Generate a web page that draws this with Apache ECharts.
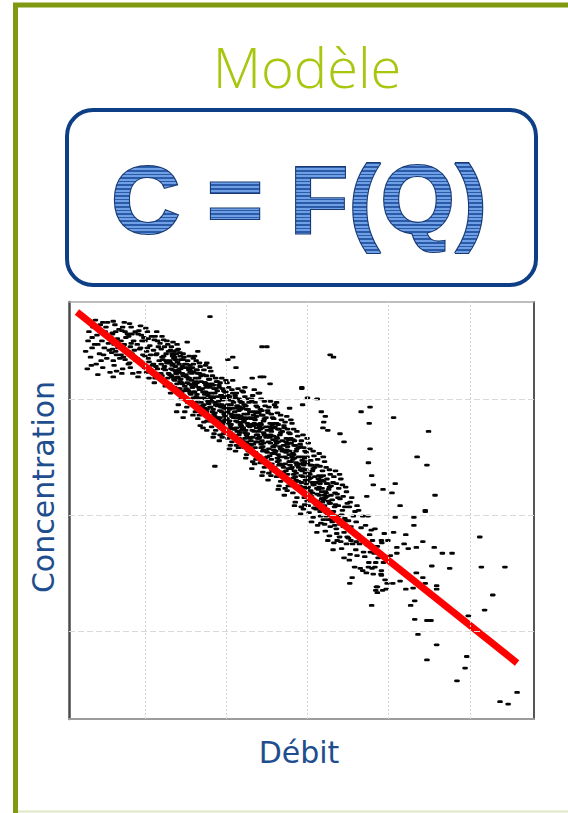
<!DOCTYPE html>
<html>
<head>
<meta charset="utf-8">
<script src="https://cdn.jsdelivr.net/npm/echarts@6/dist/echarts.min.js"></script>
<style>
html, body { margin: 0; padding: 0; background: #ffffff; }
#chart { width: 568px; height: 813px; }
</style>
</head>
<body>
<div id="chart"></div>
<script>
// ---- texts ----
const titleText = 'Modèle';
const formulaText = 'C = F(Q)';
const xAxisName = 'Débit';
const yAxisName = 'Concentration';

// ---- axes (arbitrary units, unlabeled) ----
const xRange = [0.065, 5.788];
const yRange = [0.241, 3.836];
const xGridValues = [1, 2, 3, 4, 5];
const yGridValues = [1, 2, 3];

// ---- fitted model C = F(Q) ----
const trendLine = [[0.163, 3.75], [5.58, 0.724]];

// ---- observations (Débit, Concentration) ----
const upstreamPoints = [
  [0.27,3.41],[0.31,3.58],[0.33,3.36],[0.36,3.62],[0.38,3.47],[0.40,3.30],[0.41,3.55],[0.44,3.39],[0.45,3.64],[0.47,3.50],
  [0.48,3.27],[0.50,3.44],[0.51,3.58],[0.53,3.35],[0.54,3.66],[0.55,3.48],[0.57,3.23],[0.58,3.53],[0.59,3.40],[0.30,3.50],
  [0.35,3.44],[0.43,3.60],[0.46,3.33],[0.52,3.62],[0.56,3.42],[0.60,3.57],[0.39,3.68],[0.49,3.38],[0.42,3.47],[0.34,3.29],
  [0.29,3.26],[0.35,3.53],[0.42,3.21],[0.48,3.66],[0.61,3.19]
];

const bandHigh = [
  [0.60,3.56],[0.61,3.33],[0.62,3.47],[0.63,3.64],[0.64,3.41],[0.65,3.24],[0.66,3.52],[0.67,3.44],[0.68,3.60],[0.69,3.35],[0.60,3.43],[0.61,3.67],[0.62,3.29],[0.63,3.50],[0.64,3.58],[0.65,3.38],
  [0.705,3.38],[0.715,3.59],[0.725,3.26],[0.735,3.46],[0.745,3.66],[0.755,3.34],[0.765,3.53],[0.775,3.41],[0.785,3.56],[0.795,3.30],[0.705,3.50],[0.715,3.22],[0.725,3.62],[0.735,3.36],[0.745,3.47],[0.755,3.58],
  [0.80,3.54],[0.81,3.31],[0.82,3.45],[0.83,3.62],[0.84,3.39],[0.85,3.22],[0.86,3.50],[0.87,3.42],[0.88,3.58],[0.89,3.33],[0.80,3.41],[0.81,3.65],[0.82,3.27],[0.83,3.48],[0.84,3.56],[0.85,3.36],
  [0.905,3.35],[0.915,3.56],[0.925,3.23],[0.935,3.43],[0.945,3.63],[0.955,3.31],[0.965,3.50],[0.975,3.38],[0.985,3.53],[0.995,3.27],[0.905,3.47],[0.915,3.19],[0.925,3.59],[0.935,3.33],[0.945,3.44],[0.955,3.55],
  [1.00,3.50],[1.01,3.27],[1.02,3.41],[1.03,3.58],[1.04,3.35],[1.05,3.18],[1.06,3.46],[1.07,3.38],[1.08,3.54],[1.09,3.29],[1.00,3.37],[1.01,3.61],[1.02,3.23],[1.03,3.44],[1.04,3.52],[1.05,3.32],
  [1.105,3.30],[1.115,3.51],[1.125,3.18],[1.135,3.38],[1.145,3.58],[1.155,3.26],[1.165,3.45],[1.175,3.33],[1.185,3.48],[1.195,3.22],[1.105,3.42],[1.115,3.14],[1.125,3.54],[1.135,3.28],[1.145,3.39],[1.155,3.50],
  [1.20,3.43],[1.21,3.20],[1.22,3.34],[1.23,3.51],[1.24,3.28],[1.25,3.11],[1.26,3.39],[1.27,3.31],[1.28,3.47],[1.29,3.22],[1.20,3.30],[1.21,3.54],[1.22,3.16],[1.23,3.37],[1.24,3.45],[1.25,3.25],[1.26,3.33],[1.27,3.50],[1.28,3.18],[1.29,3.41],[1.21,3.36],[1.23,3.26],
  [1.305,3.21],[1.315,3.42],[1.325,3.09],[1.335,3.29],[1.345,3.49],[1.355,3.17],[1.365,3.36],[1.375,3.24],[1.385,3.39],[1.395,3.13],[1.305,3.33],[1.315,3.05],[1.325,3.45],[1.335,3.19],[1.345,3.30],[1.355,3.41],[1.365,3.10],[1.375,3.34],[1.385,3.22],[1.395,3.47],[1.32,3.26],[1.34,3.37],
  [1.40,3.32],[1.41,3.09],[1.42,3.23],[1.43,3.40],[1.44,3.17],[1.45,3.00],[1.46,3.28],[1.47,3.20],[1.48,3.36],[1.49,3.11],[1.40,3.19],[1.41,3.43],[1.42,3.05],[1.43,3.26],[1.44,3.34],[1.45,3.14],[1.46,3.22],[1.47,3.39],[1.48,3.07],[1.49,3.30],[1.41,3.25],[1.43,3.15],
  [1.505,3.09],[1.515,3.30],[1.525,2.97],[1.535,3.17],[1.545,3.37],[1.555,3.05],[1.565,3.24],[1.575,3.12],[1.585,3.27],[1.595,3.01],[1.505,3.21],[1.515,2.93],[1.525,3.33],[1.535,3.07],[1.545,3.18],[1.555,3.29],[1.565,2.98],[1.575,3.22],[1.585,3.10],[1.595,3.35],[1.52,3.14],[1.54,3.25],
  [1.60,3.23],[1.61,2.94],[1.62,3.12],[1.63,3.33],[1.64,3.04],[1.65,2.83],[1.66,3.18],[1.67,3.08],[1.68,3.28],[1.69,2.97],[1.60,3.06],[1.61,3.37],[1.62,2.89],[1.63,3.15],[1.64,3.25],[1.65,3.00],[1.66,3.10],[1.67,3.31],[1.68,2.92],[1.69,3.20],[1.61,3.14],[1.63,3.02],[1.65,3.22],[1.67,2.86],
  [1.705,2.94],[1.715,3.21],[1.725,2.80],[1.735,3.04],[1.745,3.29],[1.755,2.89],[1.765,3.13],[1.775,2.98],[1.785,3.17],[1.795,2.84],[1.705,3.09],[1.715,2.75],[1.725,3.25],[1.735,2.92],[1.745,3.06],[1.755,3.20],[1.765,2.81],[1.775,3.11],[1.785,2.96],[1.795,3.27],[1.72,3.01],[1.74,3.14],[1.76,2.86],[1.78,3.05]
];

const bandMiddle = [
  [1.80,3.10],[1.81,2.81],[1.82,2.99],[1.83,3.20],[1.84,2.91],[1.85,2.70],[1.86,3.05],[1.87,2.95],[1.88,3.15],[1.89,2.84],[1.80,2.93],[1.81,3.24],[1.82,2.76],[1.83,3.02],[1.84,3.12],[1.85,2.87],[1.86,2.97],[1.87,3.18],[1.88,2.79],[1.89,3.07],[1.81,3.01],[1.83,2.89],[1.85,3.09],[1.87,2.73],[1.89,2.94],[1.82,3.13],[1.84,2.67],[1.86,2.85],
  [1.905,2.83],[1.915,3.10],[1.925,2.69],[1.935,2.93],[1.945,3.18],[1.955,2.78],[1.965,3.02],[1.975,2.87],[1.985,3.06],[1.995,2.73],[1.905,2.98],[1.915,2.64],[1.925,3.14],[1.935,2.81],[1.945,2.95],[1.955,3.09],[1.965,2.70],[1.975,3.00],[1.985,2.85],[1.995,3.16],[1.92,2.90],[1.94,3.03],[1.96,2.75],[1.98,2.94],[1.91,3.12],[1.95,2.67],[1.97,3.07],[1.99,2.82],
  [2.00,3.00],[2.01,2.71],[2.02,2.89],[2.03,3.10],[2.04,2.81],[2.05,2.60],[2.06,2.95],[2.07,2.85],[2.08,3.05],[2.09,2.74],[2.00,2.83],[2.01,3.14],[2.02,2.66],[2.03,2.92],[2.04,3.02],[2.05,2.77],[2.06,2.87],[2.07,3.08],[2.08,2.69],[2.09,2.97],[2.01,2.91],[2.03,2.79],[2.05,2.99],[2.07,2.63],[2.09,2.84],[2.02,3.03],[2.04,2.57],[2.06,2.75],
  [2.105,2.74],[2.115,3.01],[2.125,2.60],[2.135,2.84],[2.145,3.09],[2.155,2.69],[2.165,2.93],[2.175,2.78],[2.185,2.97],[2.195,2.64],[2.105,2.89],[2.115,2.55],[2.125,3.05],[2.135,2.72],[2.145,2.86],[2.155,3.00],[2.165,2.61],[2.175,2.91],[2.185,2.76],[2.195,3.07],[2.12,2.81],[2.14,2.94],[2.16,2.66],[2.18,2.85],[2.11,3.03],[2.15,2.58],[2.17,2.98],[2.19,2.73],
  [2.20,2.92],[2.21,2.63],[2.22,2.81],[2.23,3.02],[2.24,2.73],[2.25,2.52],[2.26,2.87],[2.27,2.77],[2.28,2.97],[2.29,2.66],[2.20,2.75],[2.21,3.06],[2.22,2.58],[2.23,2.84],[2.24,2.94],[2.25,2.69],[2.26,2.79],[2.27,3.00],[2.28,2.61],[2.29,2.89],[2.21,2.83],[2.23,2.71],[2.25,2.91],[2.27,2.55],[2.29,2.76],[2.22,2.95],[2.24,2.49],[2.26,2.67],
  [2.305,2.64],[2.315,2.98],[2.325,2.46],[2.335,2.77],[2.345,3.08],[2.355,2.58],[2.365,2.88],[2.375,2.69],[2.385,2.93],[2.395,2.51],[2.305,2.83],[2.315,2.40],[2.325,3.03],[2.335,2.61],[2.345,2.79],[2.355,2.97],[2.365,2.48],[2.375,2.85],[2.385,2.66],[2.395,3.05],[2.32,2.73],[2.34,2.89],[2.36,2.54],[2.38,2.78],[2.31,3.00],[2.35,2.44],[2.37,2.94],[2.39,2.63],
  [2.40,2.88],[2.41,2.51],[2.42,2.74],[2.43,3.00],[2.44,2.64],[2.45,2.37],[2.46,2.81],[2.47,2.69],[2.48,2.94],[2.49,2.55],[2.40,2.66],[2.41,3.05],[2.42,2.45],[2.43,2.78],[2.44,2.90],[2.45,2.59],[2.46,2.71],[2.47,2.98],[2.48,2.49],[2.49,2.84],[2.41,2.76],[2.43,2.61],[2.45,2.86],[2.47,2.41],[2.49,2.67],[2.42,2.91],[2.44,2.34],[2.46,2.56],
  [2.505,2.54],[2.515,2.88],[2.525,2.36],[2.535,2.67],[2.545,2.98],[2.555,2.48],[2.565,2.78],[2.575,2.59],[2.585,2.83],[2.595,2.41],[2.505,2.73],[2.515,2.30],[2.525,2.93],[2.535,2.51],[2.545,2.69],[2.555,2.87],[2.565,2.38],[2.575,2.75],[2.585,2.56],[2.595,2.95],[2.52,2.63],[2.54,2.79],[2.56,2.44],[2.58,2.68],[2.51,2.90],[2.55,2.34],[2.57,2.84],[2.59,2.53],
  [2.60,2.76],[2.61,2.39],[2.62,2.62],[2.63,2.88],[2.64,2.52],[2.65,2.25],[2.66,2.69],[2.67,2.57],[2.68,2.82],[2.69,2.43],[2.60,2.54],[2.61,2.93],[2.62,2.33],[2.63,2.66],[2.64,2.78],[2.65,2.47],[2.66,2.59],[2.67,2.86],[2.68,2.37],[2.69,2.72],[2.61,2.64],[2.63,2.49],[2.65,2.74],[2.67,2.29],[2.69,2.55],[2.62,2.79],[2.64,2.22],[2.66,2.44],
  [2.705,2.41],[2.715,2.75],[2.725,2.23],[2.735,2.54],[2.745,2.85],[2.755,2.35],[2.765,2.65],[2.775,2.46],[2.785,2.70],[2.795,2.28],[2.705,2.60],[2.715,2.17],[2.725,2.80],[2.735,2.38],[2.745,2.56],[2.755,2.74],[2.765,2.25],[2.775,2.62],[2.785,2.43],[2.795,2.82],[2.72,2.50],[2.74,2.66],[2.76,2.31],[2.78,2.55],[2.71,2.77],[2.75,2.21],[2.77,2.71],[2.79,2.40],
  [2.80,2.62],[2.81,2.25],[2.82,2.48],[2.83,2.74],[2.84,2.38],[2.85,2.11],[2.86,2.55],[2.87,2.43],[2.88,2.68],[2.89,2.29],[2.80,2.40],[2.81,2.79],[2.82,2.19],[2.83,2.52],[2.84,2.64],[2.85,2.33],[2.86,2.45],[2.87,2.72],[2.88,2.23],[2.89,2.58],[2.81,2.50],[2.83,2.35],[2.85,2.60],[2.87,2.15],[2.89,2.41],[2.82,2.65],[2.84,2.08],[2.86,2.30],
  [2.905,2.25],[2.915,2.59],[2.925,2.07],[2.935,2.38],[2.945,2.69],[2.955,2.19],[2.965,2.49],[2.975,2.30],[2.985,2.54],[2.995,2.12],[2.905,2.44],[2.915,2.01],[2.925,2.64],[2.935,2.22],[2.945,2.40],[2.955,2.58],[2.965,2.09],[2.975,2.46],[2.985,2.27],[2.995,2.66],[2.92,2.34],[2.94,2.50],[2.96,2.15],[2.98,2.39],[2.91,2.61],[2.95,2.05],[2.97,2.55],[2.99,2.24]
];

const bandCore = [
  [1.315,3.31],[1.325,3.20],[1.335,3.39],[1.345,3.25],[1.355,3.35],[1.365,3.16],[1.375,3.28],[1.385,3.22],[1.395,3.42],[1.305,3.13],[1.35,3.37],
  [1.41,3.18],[1.42,3.30],[1.43,3.09],[1.44,3.26],[1.46,3.13],[1.47,3.34],[1.48,3.20],[1.49,3.27],[1.40,3.23],[1.45,3.06],[1.435,3.37],
  [1.515,3.19],[1.525,3.08],[1.535,3.27],[1.545,3.13],[1.555,3.23],[1.565,3.04],[1.575,3.16],[1.585,3.10],[1.595,3.30],[1.505,3.01],[1.55,3.25],
  [1.61,3.06],[1.62,3.18],[1.63,2.97],[1.64,3.14],[1.66,3.01],[1.67,3.22],[1.68,3.08],[1.69,3.15],[1.60,3.11],[1.65,2.94],[1.635,3.25],
  [1.715,3.06],[1.725,2.95],[1.735,3.14],[1.745,3.00],[1.755,3.10],[1.765,2.91],[1.775,3.03],[1.785,2.97],[1.795,3.17],[1.705,2.88],[1.75,3.12],
  [1.81,2.93],[1.82,3.05],[1.83,2.84],[1.84,3.01],[1.86,2.88],[1.87,3.09],[1.88,2.95],[1.89,3.02],[1.80,2.98],[1.85,2.81],[1.835,3.12],
  [1.915,2.95],[1.925,2.84],[1.935,3.03],[1.945,2.89],[1.955,2.99],[1.965,2.80],[1.975,2.92],[1.985,2.86],[1.995,3.06],[1.905,2.77],[1.95,3.01],
  [2.01,2.83],[2.02,2.95],[2.03,2.74],[2.04,2.91],[2.06,2.78],[2.07,2.99],[2.08,2.85],[2.09,2.92],[2.00,2.88],[2.05,2.71],[2.035,3.02],
  [2.115,2.86],[2.125,2.75],[2.135,2.94],[2.145,2.80],[2.155,2.90],[2.165,2.71],[2.175,2.83],[2.185,2.77],[2.195,2.97],[2.105,2.68],[2.15,2.92],
  [2.21,2.75],[2.22,2.87],[2.23,2.66],[2.24,2.83],[2.26,2.70],[2.27,2.91],[2.28,2.77],[2.29,2.84],[2.20,2.80],[2.25,2.63],[2.235,2.94],
  [2.315,2.78],[2.325,2.67],[2.335,2.86],[2.345,2.72],[2.355,2.82],[2.365,2.63],[2.375,2.75],[2.385,2.69],[2.395,2.89],[2.305,2.60],[2.35,2.84],
  [2.41,2.67],[2.42,2.79],[2.43,2.58],[2.44,2.75],[2.46,2.62],[2.47,2.83],[2.48,2.69],[2.49,2.76],[2.40,2.72],[2.45,2.55],[2.435,2.86],
  [2.515,2.68],[2.525,2.57],[2.535,2.76],[2.545,2.62],[2.555,2.72],[2.565,2.53],[2.575,2.65],[2.585,2.59],[2.595,2.79],[2.505,2.50],[2.55,2.74],
  [2.61,2.55],[2.62,2.67],[2.63,2.46],[2.64,2.63],[2.66,2.50],[2.67,2.71],[2.68,2.57],[2.69,2.64],[2.60,2.60],[2.65,2.43],[2.635,2.74],
  [2.715,2.55],[2.725,2.44],[2.735,2.63],[2.745,2.49],[2.755,2.59],[2.765,2.40],[2.775,2.52],[2.785,2.46],[2.795,2.66],[2.705,2.37],[2.75,2.61],
  [2.81,2.41],[2.82,2.53],[2.83,2.32],[2.84,2.49],[2.86,2.36],[2.87,2.57],[2.88,2.43],[2.89,2.50],[2.80,2.46],[2.85,2.29],[2.835,2.60],
  [2.915,2.39],[2.925,2.28],[2.935,2.47],[2.945,2.33],[2.955,2.43],[2.965,2.24],[2.975,2.36],[2.985,2.30],[2.995,2.50],[2.905,2.21],[2.95,2.45],
  [3.01,2.24],[3.02,2.36],[3.03,2.15],[3.04,2.32],[3.06,2.19],[3.07,2.40],[3.08,2.26],[3.09,2.33],[3.00,2.29],[3.05,2.12],[3.035,2.43],
  [3.115,2.23],[3.125,2.12],[3.135,2.31],[3.145,2.17],[3.155,2.27],[3.165,2.08],[3.175,2.20],[3.185,2.14],[3.195,2.34],[3.105,2.05],[3.15,2.29],
  [3.21,2.08],[3.22,2.20],[3.23,1.99],[3.24,2.16],[3.26,2.03],[3.27,2.24],[3.28,2.10],[3.29,2.17],[3.20,2.13],[3.25,1.96],[3.235,2.27]
];

const bandLow = [
  [3.00,2.45],[3.01,2.08],[3.02,2.31],[3.03,2.57],[3.04,2.21],[3.05,1.94],[3.06,2.38],[3.07,2.26],[3.08,2.51],[3.09,2.12],[3.00,2.23],[3.01,2.62],[3.02,2.02],[3.03,2.35],[3.04,2.47],[3.05,2.16],[3.06,2.28],[3.07,2.55],[3.08,2.06],[3.09,2.41],[3.01,2.33],[3.03,2.18],[3.05,2.43],[3.07,1.98],
  [3.105,2.09],[3.115,2.43],[3.125,1.91],[3.135,2.22],[3.145,2.53],[3.155,2.03],[3.165,2.33],[3.175,2.14],[3.185,2.38],[3.195,1.96],[3.105,2.28],[3.115,1.85],[3.125,2.48],[3.135,2.06],[3.145,2.24],[3.155,2.42],[3.165,1.93],[3.175,2.30],[3.185,2.11],[3.195,2.50],[3.12,2.18],[3.14,2.34],[3.16,1.99],[3.18,2.23],
  [3.20,2.29],[3.21,1.92],[3.22,2.15],[3.23,2.41],[3.24,2.05],[3.25,1.78],[3.26,2.22],[3.27,2.10],[3.28,2.35],[3.29,1.96],[3.20,2.07],[3.21,2.46],[3.22,1.86],[3.23,2.19],[3.24,2.31],[3.25,2.00],[3.26,2.12],[3.27,2.39],[3.28,1.90],[3.29,2.25],[3.21,2.17],[3.23,2.02],[3.25,2.27],[3.27,1.82],
  [3.305,1.94],[3.315,2.28],[3.325,1.76],[3.335,2.07],[3.345,2.38],[3.355,1.88],[3.365,2.18],[3.375,1.99],[3.385,2.23],[3.395,1.81],[3.305,2.13],[3.315,1.70],[3.325,2.33],[3.335,1.91],[3.345,2.09],[3.355,2.27],[3.365,1.78],[3.375,2.15],[3.385,1.96],[3.395,2.35],[3.32,2.03],[3.34,2.19],[3.36,1.84],[3.38,2.08],
  [3.40,2.14],[3.41,1.77],[3.42,2.00],[3.43,2.26],[3.44,1.90],[3.45,1.63],[3.46,2.07],[3.47,1.95],[3.48,2.20],[3.49,1.81],[3.40,1.92],[3.41,2.31],[3.42,1.71],[3.43,2.04],[3.44,2.16],[3.45,1.85],[3.46,1.97],[3.47,2.24],[3.48,1.75],[3.49,2.10],
  [3.505,1.80],[3.515,2.07],[3.525,1.66],[3.535,1.90],[3.545,2.15],[3.555,1.75],[3.565,1.99],[3.575,1.84],[3.585,2.03],[3.595,1.70],[3.505,1.95],[3.515,1.61],[3.525,2.11],[3.535,1.78],
  [3.60,1.94],[3.61,1.65],[3.62,1.83],[3.63,2.04],[3.64,1.75],[3.65,1.54],[3.66,1.89],[3.67,1.79],[3.68,1.99],[3.69,1.68],[3.60,1.77],[3.61,2.08],
  [3.705,1.64],[3.715,1.91],[3.725,1.50],[3.735,1.74],[3.745,1.99],[3.755,1.59],[3.765,1.83],[3.775,1.68],[3.785,1.87],[3.795,1.54],
  [3.80,1.78],[3.81,1.49],[3.82,1.67],[3.83,1.88],[3.84,1.59],[3.85,1.38],[3.86,1.73],[3.87,1.63],
  [3.905,1.49],[3.915,1.76],[3.925,1.35],[3.935,1.59],[3.945,1.84],[3.955,1.44]
];

const scatteredPoints = [
  [1.80,3.71],[2.44,3.45],[2.50,3.45],[3.28,3.38],[3.32,3.36],[2.93,3.10],[2.94,2.95],[3.12,3.00],[3.17,2.89],[3.22,2.85],
  [3.20,2.80],[3.19,2.75],[3.25,2.73],[3.40,2.70],[3.45,2.63],[3.66,2.89],[3.77,2.93],[3.76,2.79],[3.77,2.57],[3.75,2.45],
  [3.79,2.34],[3.81,2.26],[3.73,2.16],[4.06,2.84],[4.08,2.27],[4.04,2.19],[4.14,2.08],[3.93,2.22],[4.49,2.72],[4.35,2.50],
  [4.47,2.43],[4.57,2.17],[4.45,2.04],[5.12,1.81],[5.14,1.55],[5.43,1.55],[5.28,1.31],[5.18,1.18],[4.98,1.13],[4.96,0.78],
  [4.94,0.68],[4.84,0.57],[5.58,0.47],[5.37,0.39],[5.47,0.37],[4.59,0.88],[4.47,0.75],[4.36,0.97],[4.32,1.10],[4.47,1.09],
  [4.52,1.09],[4.27,1.22],[4.32,1.26],[4.59,1.36],[4.59,1.39],[4.45,1.41],[4.42,1.46],[4.34,1.50],[4.30,1.37],[4.21,1.36],
  [4.14,1.43],[4.05,1.41],[3.98,1.41],[3.97,1.36],[3.86,1.38],[3.86,1.33],[3.84,1.35],[3.79,1.22],[4.53,1.56],[4.75,1.54],
  [4.78,1.67],[4.66,1.67],[4.56,1.72],[4.42,1.77],[4.34,1.72],[4.24,1.71],[4.10,1.72],[4.10,1.67],[4.19,1.75],[4.21,1.83],
  [4.31,1.91],[4.31,1.98],[4.45,2.03],[4.08,1.98],[4.06,1.85],[3.99,1.78],[3.91,1.78],[4.02,1.65],[3.91,1.52],[3.91,1.48],
  [3.68,1.52],[3.58,1.55],[3.52,1.41],[3.55,1.46],[3.75,1.55],[3.83,1.55],[1.86,2.42],
  [2.08,3.36],[2.12,3.27],[2.32,3.18],[2.42,3.19],[2.46,3.19],[2.54,3.13],[2.23,3.10],[2.08,3.16],[1.89,3.15],[2.02,3.34],
  [1.65,3.41],[1.52,3.49],[1.76,3.31],[2.93,3.09],[2.78,2.92],[3.00,3.01],[2.62,2.97],
  [1.39,2.89],[1.49,2.89],[1.47,2.84],[1.59,2.86],[1.41,2.95],[1.68,2.77],[1.76,2.73]
];

// ---- colours ----
const frameGreen = '#7f9a10';
const titleGreen = '#a6c70e';
const navy = '#0e3f86';
const labelBlue = '#1f4e8e';
const stripeLight = '#6fa0e6';
const stripeDark = '#2a5aa8';
const glyphOutline = '#183a70';

const observations = [].concat(upstreamPoints, bandHigh, bandMiddle, bandCore, bandLow, scatteredPoints);

const gridLineX = { color: '#d4d4d4', width: 1, type: [2, 2] };
const gridLineY = { color: '#d9d9d9', width: 1, type: [6, 3] };

const chart = echarts.init(document.getElementById('chart'), null, { renderer: 'svg' });

chart.setOption({
  backgroundColor: '#ffffff',
  animation: false,
  grid: { left: 69, right: 34, top: 302, bottom: 94, containLabel: false },
  xAxis: [
    { type: 'value', min: xRange[0], max: xRange[1], position: 'bottom',
      axisLine: { show: true, onZero: false, lineStyle: { color: '#9c9c9c', width: 2 } },
      axisTick: { show: false }, axisLabel: { show: false }, splitLine: { show: false } },
    { type: 'value', min: xRange[0], max: xRange[1], position: 'top',
      axisLine: { show: true, onZero: false, lineStyle: { color: '#a8a8a8', width: 1.5 } },
      axisTick: { show: false }, axisLabel: { show: false }, splitLine: { show: false } }
  ],
  yAxis: [
    { type: 'value', min: yRange[0], max: yRange[1], position: 'left',
      axisLine: { show: true, onZero: false, lineStyle: { color: '#4a4a4a', width: 2.5 } },
      axisTick: { show: false }, axisLabel: { show: false }, splitLine: { show: false } },
    { type: 'value', min: yRange[0], max: yRange[1], position: 'right',
      axisLine: { show: true, onZero: false, lineStyle: { color: '#555555', width: 2 } },
      axisTick: { show: false }, axisLabel: { show: false }, splitLine: { show: false } }
  ],
  series: [
    {
      // light dashed reference grid
      type: 'line', data: [], z: 1, silent: true,
      markLine: {
        silent: true, symbol: 'none', label: { show: false }, animation: false,
        data: xGridValues.map(v => ({ xAxis: v, lineStyle: gridLineX }))
          .concat(yGridValues.map(v => ({ yAxis: v, lineStyle: gridLineY })))
      }
    },
    {
      name: 'Mesures', type: 'scatter', data: observations, z: 2, silent: true,
      symbol: 'roundRect', symbolSize: [5.4, 2.8],
      itemStyle: { color: '#050505', opacity: 1 }
    },
    {
      name: 'Modèle', type: 'line', data: trendLine, z: 3, silent: true,
      symbol: 'none', lineStyle: { color: '#ff0000', width: 7 }
    }
  ],
  graphic: [
    { type: 'polyline', silent: true, z: 5,
      shape: { points: [[15.5, 813], [15.5, 5], [568, 5]] },
      style: { stroke: frameGreen, lineWidth: 5, fill: null, lineJoin: 'miter' } },
    { type: 'line', silent: true, z: 5,
      shape: { x1: 18, y1: 811.5, x2: 568, y2: 811.5 },
      style: { stroke: '#dfe8c6', lineWidth: 2 } },
    { type: 'text', x: 307, y: 66, silent: true, z: 10,
      style: { text: titleText, fontFamily: '"Open Sans", sans-serif', fontWeight: 350, fontSize: 56,
        textAlign: 'center', align: 'center', textVerticalAlign: 'middle', verticalAlign: 'middle',
        fill: titleGreen } },
    { type: 'rect', silent: true, z: 5,
      shape: { x: 67, y: 110, width: 469, height: 175, r: 26 },
      style: { fill: '#ffffff', stroke: navy, lineWidth: 4 } },
    { type: 'text', x: 43, y: 487, rotation: Math.PI / 2, silent: true, z: 10,
      style: { text: yAxisName, fontFamily: '"DejaVu Sans", sans-serif', fontSize: 30,
        textAlign: 'center', align: 'center', textVerticalAlign: 'middle', verticalAlign: 'middle',
        fill: labelBlue } },
    { type: 'text', x: 299, y: 752, silent: true, z: 10,
      style: { text: xAxisName, fontFamily: '"DejaVu Sans", sans-serif', fontSize: 30,
        textAlign: 'center', align: 'center', textVerticalAlign: 'middle', verticalAlign: 'middle',
        fill: labelBlue } }
  ]
});

// ---- striped "C = F(Q)" lettering ----
// Horizontal bands of light / dark blue, in page coordinates.
function stripeFill(top, bottom, period, ratio) {
  const span = bottom - top;
  const stops = [];
  for (let y = 0; y < span - 1e-6; y += period) {
    const a = y / span;
    const b = Math.min((y + period * ratio) / span, 1);
    const c = Math.min((y + period) / span, 1);
    stops.push({ offset: a, color: stripeLight }, { offset: b, color: stripeLight },
               { offset: b, color: stripeDark }, { offset: c, color: stripeDark });
  }
  return new echarts.graphic.LinearGradient(0, top, 0, bottom, stops, true);
}

const formulaCenterX = 299;
const formulaMiddle = 199;
const formulaFont = 'bold 96px "Liberation Sans", Arial, sans-serif';

const zr = chart.getZr();
// single-line text span: lets the lettering carry the striped gradient directly
const probe = new echarts.graphic.Text({ style: { text: 'C' } });
if (probe.update) probe.update();
const probeChildren = probe.childrenRef ? probe.childrenRef() : null;
const SpanCtor = probeChildren && probeChildren[0] ? probeChildren[0].constructor : null;

if (SpanCtor) {
  zr.add(new SpanCtor({
    silent: true, z: 20,
    style: {
      text: formulaText, x: formulaCenterX, y: formulaMiddle,
      font: formulaFont, textAlign: 'center', textBaseline: 'middle',
      fill: stripeFill(150, 262, 3.6, 0.58),
      stroke: glyphOutline, lineWidth: 2.2
    }
  }));
} else {
  zr.add(new echarts.graphic.Text({
    silent: true, z: 20,
    style: {
      text: formulaText, x: formulaCenterX, y: formulaMiddle,
      font: formulaFont, align: 'center', verticalAlign: 'middle',
      fill: stripeDark, stroke: glyphOutline, lineWidth: 2.2
    }
  }));
}
</script>
